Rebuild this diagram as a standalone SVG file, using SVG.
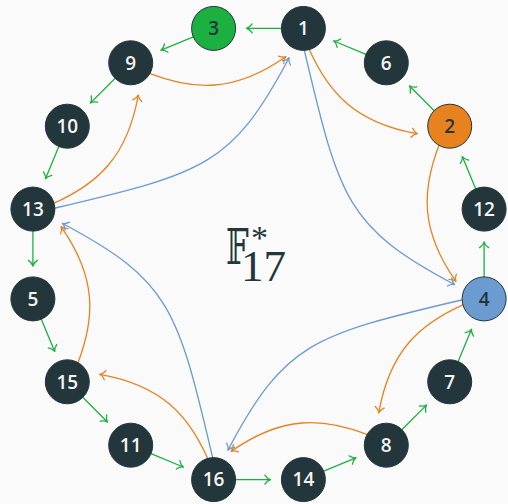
<svg xmlns="http://www.w3.org/2000/svg" width="508" height="504" viewBox="0 0 508 504">
  <defs>
    <style>
      .bg { fill: #fafafa; }
      .edge { fill: none; stroke-width: 1.3; stroke-linecap: round; }
      .g { stroke: #1cb040; }
      .o { stroke: #e8821e; }
      .b { stroke: #6b9bd1; }
      .node circle { stroke: #22363b; stroke-width: 1; }
      .dark circle { fill: #22363b; }
      .dark text { fill: #f4f4f4; }
      .lit text { fill: #22363b; }
      .node text { font-family: "Open Sans", "Noto Sans", "DejaVu Sans", sans-serif; font-weight: 600; font-size: 19px; text-anchor: middle; }
      .title { font-family: "Liberation Serif", "DejaVu Serif", serif; fill: #22363b; }
      .arrow { fill: none; stroke-width: 1.3; stroke-linecap: round; stroke-linejoin: round; }
    </style>
    <marker id="ah-g" markerUnits="userSpaceOnUse" orient="auto" viewBox="-8 -6 10 12" markerWidth="10" markerHeight="12" refX="0" refY="0" overflow="visible">
      <path class="arrow" stroke="#1cb040" d="M-5.5,-4.5 C-3.5,-1.6 -1.5,-0.4 0,0 C-1.5,0.4 -3.5,1.6 -5.5,4.5"/>
    </marker>
    <marker id="ah-o" markerUnits="userSpaceOnUse" orient="auto" viewBox="-8 -6 10 12" markerWidth="10" markerHeight="12" refX="0" refY="0" overflow="visible">
      <path class="arrow" stroke="#e8821e" d="M-5.5,-4.5 C-3.5,-1.6 -1.5,-0.4 0,0 C-1.5,0.4 -3.5,1.6 -5.5,4.5"/>
    </marker>
    <marker id="ah-b" markerUnits="userSpaceOnUse" orient="auto" viewBox="-8 -6 10 12" markerWidth="10" markerHeight="12" refX="0" refY="0" overflow="visible">
      <path class="arrow" stroke="#6b9bd1" d="M-5.5,-4.5 C-3.5,-1.6 -1.5,-0.4 0,0 C-1.5,0.4 -3.5,1.6 -5.5,4.5"/>
    </marker>
    <!-- one step back around the ring: x -> 3x -->
    <path id="e-g" class="edge g" marker-end="url(#ah-g)" d="M281.4,28.4 L246.6,28.4"/>
    <!-- two steps forward: x -> 2x -->
    <path id="e-o" class="edge o" marker-end="url(#ah-o)" d="M149.3,73.3 C194.1,90.5 234.2,92.8 285.7,56.7"/>
    <!-- four steps forward: x -> 4x -->
    <path id="e-b" class="edge b" marker-end="url(#ah-b)" d="M55.5,208 C204.8,172.9 232,165.4 289,58"/>
  </defs>

  <rect class="bg" x="0" y="0" width="508" height="504"/>

  <g id="connectors">
    <!-- green: multiply by 3 (generator cycle) -->
    <use href="#e-g"/>
    <use href="#e-g" transform="rotate(22.5 258.5 254)"/>
    <use href="#e-g" transform="rotate(45 258.5 254)"/>
    <use href="#e-g" transform="rotate(67.5 258.5 254)"/>
    <use href="#e-g" transform="rotate(90 258.5 254)"/>
    <use href="#e-g" transform="rotate(112.5 258.5 254)"/>
    <use href="#e-g" transform="rotate(135 258.5 254)"/>
    <use href="#e-g" transform="rotate(157.5 258.5 254)"/>
    <use href="#e-g" transform="rotate(180 258.5 254)"/>
    <use href="#e-g" transform="rotate(202.5 258.5 254)"/>
    <use href="#e-g" transform="rotate(225 258.5 254)"/>
    <use href="#e-g" transform="rotate(247.5 258.5 254)"/>
    <use href="#e-g" transform="rotate(270 258.5 254)"/>
    <use href="#e-g" transform="rotate(292.5 258.5 254)"/>
    <use href="#e-g" transform="rotate(315 258.5 254)"/>
    <use href="#e-g" transform="rotate(337.5 258.5 254)"/>
    <!-- orange: multiply by 2 -->
    <use href="#e-o"/>
    <use href="#e-o" transform="rotate(45 258.5 254)"/>
    <use href="#e-o" transform="rotate(90 258.5 254)"/>
    <use href="#e-o" transform="rotate(135 258.5 254)"/>
    <use href="#e-o" transform="rotate(180 258.5 254)"/>
    <use href="#e-o" transform="rotate(225 258.5 254)"/>
    <use href="#e-o" transform="rotate(270 258.5 254)"/>
    <use href="#e-o" transform="rotate(315 258.5 254)"/>
    <!-- blue: multiply by 4 -->
    <use href="#e-b"/>
    <use href="#e-b" transform="rotate(90 258.5 254)"/>
    <use href="#e-b" transform="rotate(180 258.5 254)"/>
    <use href="#e-b" transform="rotate(270 258.5 254)"/>
  </g>

  <g id="n1" class="node dark"><circle cx="303.4" cy="28.4" r="22"/><text x="303.4" y="35.2">1</text></g>
  <g id="n6" class="node dark"><circle cx="386.3" cy="62.8" r="22"/><text x="386.3" y="69.6">6</text></g>
  <g id="n2" class="node lit"><circle cx="449.7" cy="126.2" r="22" fill="#e8821e"/><text x="449.7" y="133">2</text></g>
  <g id="n12" class="node dark"><circle cx="484.1" cy="209.1" r="22"/><text x="484.1" y="215.9">12</text></g>
  <g id="n4" class="node lit"><circle cx="484.1" cy="298.9" r="22" fill="#6b9bd1"/><text x="484.1" y="305.7">4</text></g>
  <g id="n7" class="node dark"><circle cx="449.7" cy="381.8" r="22"/><text x="449.7" y="388.6">7</text></g>
  <g id="n8" class="node dark"><circle cx="386.3" cy="445.2" r="22"/><text x="386.3" y="452">8</text></g>
  <g id="n14" class="node dark"><circle cx="303.4" cy="479.6" r="22"/><text x="303.4" y="486.4">14</text></g>
  <g id="n16" class="node dark"><circle cx="213.6" cy="479.6" r="22"/><text x="213.6" y="486.4">16</text></g>
  <g id="n11" class="node dark"><circle cx="130.7" cy="445.2" r="22"/><text x="130.7" y="452">11</text></g>
  <g id="n15" class="node dark"><circle cx="67.3" cy="381.8" r="22"/><text x="67.3" y="388.6">15</text></g>
  <g id="n5" class="node dark"><circle cx="32.9" cy="298.9" r="22"/><text x="32.9" y="305.7">5</text></g>
  <g id="n13" class="node dark"><circle cx="32.9" cy="209.1" r="22"/><text x="32.9" y="215.9">13</text></g>
  <g id="n10" class="node dark"><circle cx="67.3" cy="126.2" r="22"/><text x="67.3" y="133">10</text></g>
  <g id="n9" class="node dark"><circle cx="130.7" cy="62.8" r="22"/><text x="130.7" y="69.6">9</text></g>
  <g id="n3" class="node lit"><circle cx="213.6" cy="28.4" r="22" fill="#1cb040"/><text x="213.6" y="35.2">3</text></g>

  <g id="label" class="title">
    <text transform="translate(226 263.7) scale(0.8 1.2)" x="0" y="0" font-size="40">𝔽</text>
    <text x="251" y="249" font-size="34">*</text>
    <text x="241" y="281.3" font-size="45">17</text>
  </g>
</svg>
